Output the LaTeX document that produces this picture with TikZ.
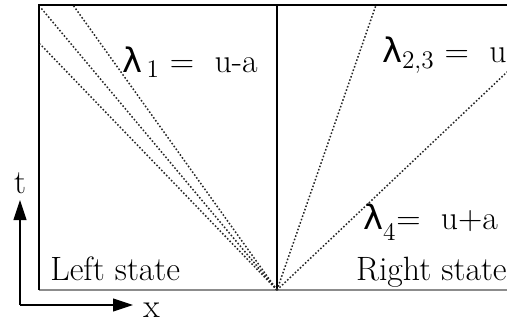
\documentclass[tikz,border=0pt]{standalone}
\usepackage{amsmath,amssymb}
\usepackage{fontspec}
\usepackage{xcolor}
\usepackage{tikz}
\usetikzlibrary{arrows.meta,positioning,calc}
\newfontfamily\lamfont{DejaVu Sans}
\newcommand{\lam}{{\lamfont λ}}
\definecolor{fangray}{HTML}{8C8C8C}
\tikzset{
  statelabel/.style={font=\fontsize{19.2}{22}\selectfont,inner sep=0pt},
  speedlabel/.style={font=\fontsize{19.2}{22}\selectfont,inner sep=0pt},
  wavefan/.style={dash pattern=on 0.9pt off 1.1pt,line width=0.85pt,black!85},
  axisarrow/.style={-{Triangle[length=4mm,width=2.6mm]},line width=0.6pt}
}

\begin{document}
\begin{tikzpicture}[x=1.0cm,y=1.0cm]
  \useasboundingbox (0,0) rectangle (10.14,6.46);
  % the x-t plane
  \coordinate (o) at (5.54,0.66);
  \coordinate (bl) at (0.78,0.66);
  \coordinate (tl) at (0.78,6.36);
  \coordinate (tm) at (5.54,6.36);
  \coordinate (tr) at (10.14,6.36);
  \coordinate (br) at (10.14,0.66);
  \draw[fangray,line width=1.1pt] (bl)--(br);
  \draw[line width=0.6pt] (bl)--(tl)--(tr);
  \draw[line width=0.8pt] (o)--(tm);
  % characteristics
  \coordinate (l1) at (0.82,6.30);
  \coordinate (l2) at (1.46,6.36);
  \coordinate (l3) at (0.80,5.58);
  \coordinate (r1) at (7.52,6.36);
  \coordinate (r2) at (10.14,5.02);
  \foreach \c in {l1,l2,l3,r1,r2}
    \draw[wavefan] (o)--(\c);
  \node[speedlabel,anchor=west] (lamone) at (2.44,5.22) {\lam$_{\,1}$\ =\ \ u-a};
  \node[speedlabel,anchor=east] (lamtwo) at (10.14,5.36) {\lam$_{2,3}$\ =\ \ u};
  \node[speedlabel] (lamfour) at (8.61,2.02) {\lam$_{\raisebox{-3pt}{$\scriptstyle 4$}}$=\ \ u+a};
  \node[statelabel,anchor=base west] (lstate) at (1.0,0.86) {Left state};
  \node[statelabel,anchor=base east] (rstate) at (10.14,0.86) {Right state};
  % axes
  \coordinate (ax) at (0.40,0.36);
  \coordinate (tt) at (0.40,2.46);
  \coordinate (xt) at (2.66,0.36);
  \draw[axisarrow] (ax)--(tt);
  \draw[axisarrow] (ax)--(xt);
  \node[statelabel,above=0.12 of tt] (tlab) {t};
  \node[statelabel,right=0.2 of xt,yshift=-3pt] (xlab) {x};
\end{tikzpicture}
\end{document}
